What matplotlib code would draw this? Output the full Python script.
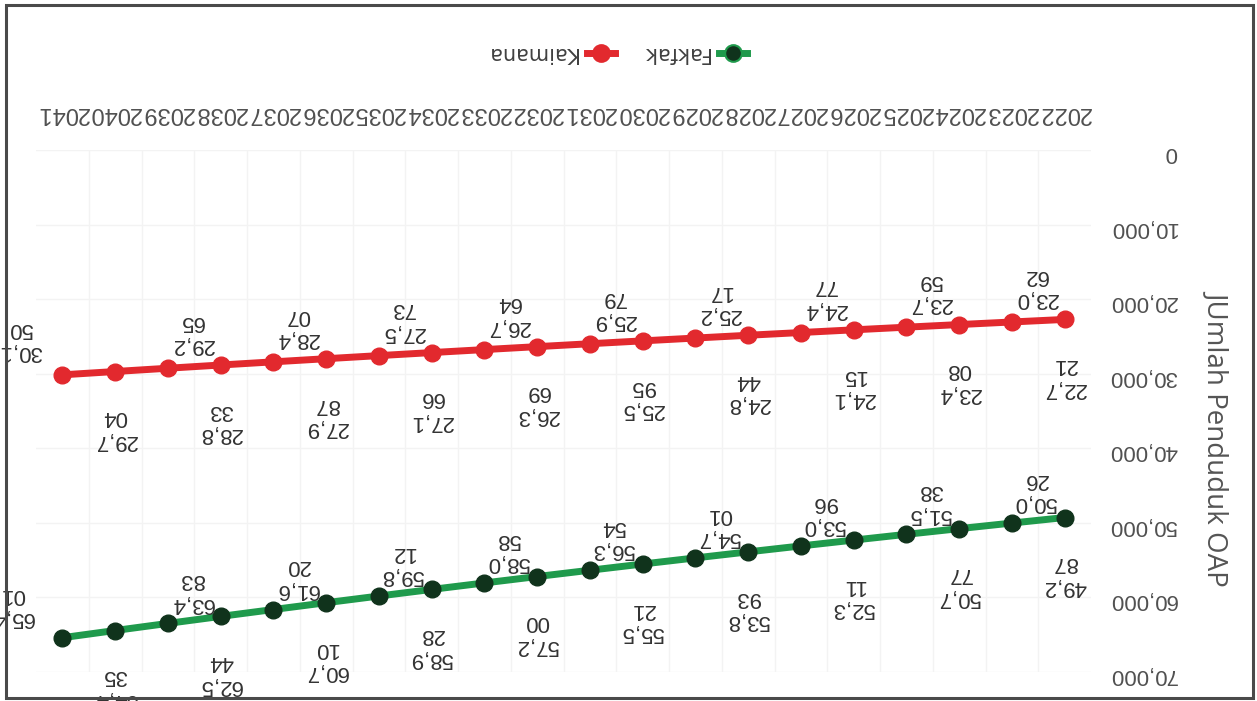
import matplotlib
matplotlib.use("Agg")
import matplotlib.pyplot as plt
from matplotlib.lines import Line2D
from matplotlib.patches import Rectangle
from matplotlib.transforms import offset_copy

# Proyeksi jumlah penduduk OAP per kabupaten
years = list(range(2022, 2042))
fakfak = [49287, 50026, 50777, 51538, 52311, 53096, 53893, 54701, 55521, 56354,
          57200, 58058, 58928, 59812, 60710, 61620, 62544, 63483, 64435, 65401]
kaimana = [22721, 23062, 23408, 23759, 24115, 24477, 24844, 25217, 25595, 25979,
           26369, 26764, 27166, 27573, 27987, 28407, 28833, 29265, 29704, 30150]
y_ticks = [0, 10000, 20000, 30000, 40000, 50000, 60000, 70000]
series_names = ["Fakfak", "Kaimana"]
y_title = "JUmlah Penduduk OAP"

W, H = 1257, 701
fig = plt.figure(figsize=(W / 100, H / 100), dpi=100)
fig.patch.set_facecolor("white")


def fx(x):
    return x / W


def fy(y):
    return 1 - y / H


NUM_FONT = "Liberation Sans"
GREEN = "#1f9a4c"
GREEN_DARK = "#10331c"
RED = "#e2292e"

# Plot area (page is printed upside down: both axes reversed, text turned 180 deg)
ax_left, ax_right, ax_top, ax_bottom = 36, 1091, 150, 672
ax = fig.add_axes([fx(ax_left), fy(ax_bottom), fx(ax_right - ax_left), (ax_bottom - ax_top) / H])
ax.set_xlim(years[-1] + 0.5, years[0] - 0.5)
ax.set_ylim(y_ticks[-1], y_ticks[0])
for s in ax.spines.values():
    s.set_visible(False)

# faint gridlines
ax.set_yticks(y_ticks)
ax.set_xticks(years)
ax.set_xticks([y + 0.5 for y in years[:-1]], minor=True)
ax.grid(axis="y", which="major", color="#f3f3f3", lw=1)
ax.grid(axis="x", which="minor", color="#f3f3f3", lw=1)
ax.set_axisbelow(True)

# y tick labels on the right, upside down
ax.yaxis.tick_right()
ax.set_yticklabels([f"{t:,}" for t in y_ticks])
ax.tick_params(axis="y", which="both", length=0, pad=62, labelsize=16,
               labelcolor="#505050", labelrotation=180)
for lbl in ax.get_yticklabels():
    lbl.set_ha("right")
    lbl.set_fontfamily(NUM_FONT)

# x tick labels on top, upside down
ax.xaxis.tick_top()
ax.set_xticklabels([str(y) for y in years])
ax.tick_params(axis="x", which="both", length=0, pad=19, labelsize=17,
               labelcolor="#505050", labelrotation=180)
for lbl in ax.get_xticklabels():
    lbl.set_fontfamily(NUM_FONT)

# series
ax.plot(years, fakfak, color=GREEN, lw=5, marker="o", ms=12,
        mfc=GREEN_DARK, mec=GREEN_DARK, zorder=2)
ax.plot(years, kaimana, color=RED, lw=5, marker="o", ms=12,
        mfc=RED, mec=RED, zorder=2)

# outer frame
frame = Rectangle((fx(6), fy(698)), fx(1253 - 6), (698 - 5) / H,
                  transform=fig.transFigure, fill=False, edgecolor="#4a4a4a", lw=2.2)
fig.add_artist(frame)


def label_text(v):
    s = f"{v:,}"
    return s[:4] + "\n" + s[4:]


def add_labels(values, up_dy, last_dx):
    n = len(values)
    for i, (yr, v) in enumerate(zip(years, values)):
        if i % 2 == 0:
            dx, dy = 0, -57
        else:
            dx, dy = (24 if i < n - 1 else last_dx), up_dy
        tr = offset_copy(ax.transData, fig=fig, x=dx, y=dy, units="dots")
        t = ax.text(yr, v, label_text(v), transform=tr, rotation=180,
                    ha="center", va="center", multialignment="center",
                    fontsize=16, family=NUM_FONT, color="#333333",
                    linespacing=1.15, zorder=4)
        t.set_clip_path(frame)


add_labels(kaimana, 35, -42)
add_labels(fakfak, 32, -50)

# legend (upside down: marker to the right of its text)
for name, col, face, mx in [(series_names[0], GREEN, GREEN_DARK, 733),
                            (series_names[1], RED, RED, 601)]:
    fig.add_artist(Line2D([fx(mx - 14), fx(mx + 14)], [fy(53), fy(53)],
                          transform=fig.transFigure, color=col, lw=5))
    fig.add_artist(Line2D([fx(mx)], [fy(53)], transform=fig.transFigure,
                          marker="o", ms=12, mfc=face, mec=col, mew=1.5, ls="none"))
    fig.text(fx(mx - 24), fy(53), name, rotation=180, ha="right", va="center",
             fontsize=15, family="DejaVu Sans", color="#404040")

# y axis title, reading downward on the right side
fig.text(fx(1217), fy(437), y_title, rotation=270, ha="center", va="center",
         fontsize=20, family="Open Sans", color="#555555")

fig.savefig("out.png", dpi=100, facecolor="white")
